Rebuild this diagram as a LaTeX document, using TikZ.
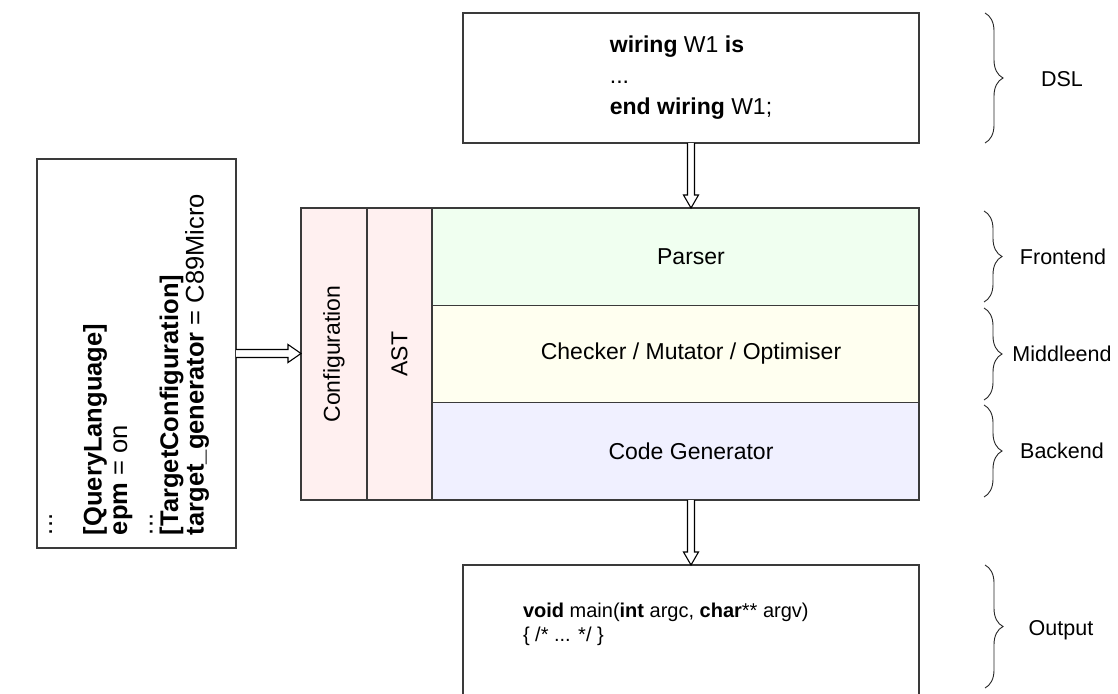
\documentclass[tikz,border=0pt]{standalone}
\usepackage{fontspec}
\setmainfont{Liberation Sans}
\usetikzlibrary{calc,decorations.pathreplacing}

\definecolor{cfgpink}{HTML}{FFF0F0}
\definecolor{frontgreen}{HTML}{F0FFF0}
\definecolor{middleivory}{HTML}{FFFFF0}
\definecolor{backlavender}{HTML}{F0F0FF}
\definecolor{edge}{HTML}{3A3A3A}

\begin{document}
\begin{tikzpicture}[x=1pt,y=-1pt,
  every node/.style={inner sep=0pt, outer sep=0pt},
  frame/.style={draw=edge, line width=1.1pt},
  layer/.style={frame, minimum width=487pt, minimum height=97.33pt},
  side/.style={frame, fill=cfgpink, rotate=90, minimum width=292pt,
               font=\fontsize{23}{28}\selectfont},
  maintext/.style={font=\fontsize{23}{29}\selectfont},
  hollow/.style={draw=black, line width=1.1pt, fill=white, line join=miter},
  curly/.style={draw=black!85, line width=0.9pt, decorate,
                decoration={brace, amplitude=18pt, aspect=0.5}},
  tag/.style={font=\fontsize{21.5}{26}\selectfont}
]
\useasboundingbox (0,0) rectangle (1118,693);
\clip (0,0) rectangle (1118,693);

% source program
\node[frame, minimum width=456pt, minimum height=130pt, align=left,
      font=\fontsize{23}{31}\selectfont]
  (dsl) at (691,78)
  {\textbf{wiring} W1 \textbf{is}\\...\\\textbf{end wiring} W1;};

% configuration file
\node[frame, minimum width=199pt, minimum height=389pt] (ini) at (136.5,353.5) {};
\node[rotate=90, anchor=north west, align=left,
      font=\fontsize{25.5}{25.5}\selectfont] (initext) at (34.15,535)
  {\strut...\\[22.5pt]
   \textbf{[QueryLanguage]}\\
   \textbf{epm} = on\\
   ...\\
   \textbf{[TargetConfiguration]}\\
   \textbf{target\_generator} = C89Micro};

% compiler columns
\node[side, minimum height=66pt] (conf) at (334,354) {Configuration};
\node[side, minimum height=65pt] (ast) at (399.5,354) {AST};

% compiler stages
\node[layer, fill=frontgreen, label={[maintext, xshift=15.5pt]center:Parser}]
  (parser) at (675.5,256.67) {};
\node[layer, fill=middleivory,
      label={[maintext, xshift=15.5pt]center:Checker / Mutator / Optimiser}]
  (checker) at (675.5,354) {};
\node[layer, fill=backlavender, label={[maintext, xshift=15.5pt]center:Code Generator}]
  (codegen) at (675.5,451.33) {};

% generated code
\node[frame, minimum width=456pt, minimum height=140pt] (out) at (691,635) {};
\node[anchor=north west, align=left, font=\fontsize{20}{24}\selectfont]
  (code) at (523,600.2)
  {\strut\textbf{void} main(\textbf{int} argc, \textbf{char}** argv)\\\{ /* ... */ \}};

% hollow arrows
\coordinate (t1) at (dsl.south |- parser.north);
\draw[hollow] ($(dsl.south)+(-3.5,0)$) -- ($(t1)+(-3.5,-13)$) -- ($(t1)+(-7.5,-13)$)
  -- (t1) -- ($(t1)+(7.5,-13)$) -- ($(t1)+(3.5,-13)$) -- ($(dsl.south)+(3.5,0)$);

\coordinate (s2) at (dsl.south |- codegen.south);
\draw[hollow] ($(s2)+(-3.5,0)$) -- ($(out.north)+(-3.5,-13)$) -- ($(out.north)+(-7.5,-13)$)
  -- (out.north) -- ($(out.north)+(7.5,-13)$) -- ($(out.north)+(3.5,-13)$) -- ($(s2)+(3.5,0)$);

\coordinate (t3) at (conf.north |- ini.east);
\draw[hollow] ($(ini.east)+(0,-4)$) -- ($(t3)+(-13,-4)$) -- ($(t3)+(-13,-9)$)
  -- (t3) -- ($(t3)+(-13,9)$) -- ($(t3)+(-13,4)$) -- ($(ini.east)+(0,4)$);

% phase braces
\draw[curly] (985,13) -- (985,143);
\node[tag] (ldsl) at (1062,79) {DSL};
\draw[curly] (984,211) -- (984,302);
\node[tag] (lfront) at (1063,257) {Frontend};
\draw[curly] (984,308) -- (984,400);
\node[tag] (lmiddle) at (1062,354) {Middleend};
\draw[curly] (984,405) -- (984,497);
\node[tag] (lback) at (1062,451) {Backend};
\draw[curly] (985,565) -- (985,688);
\node[tag] (lout) at (1061,630) {Output};
\end{tikzpicture}
\end{document}
